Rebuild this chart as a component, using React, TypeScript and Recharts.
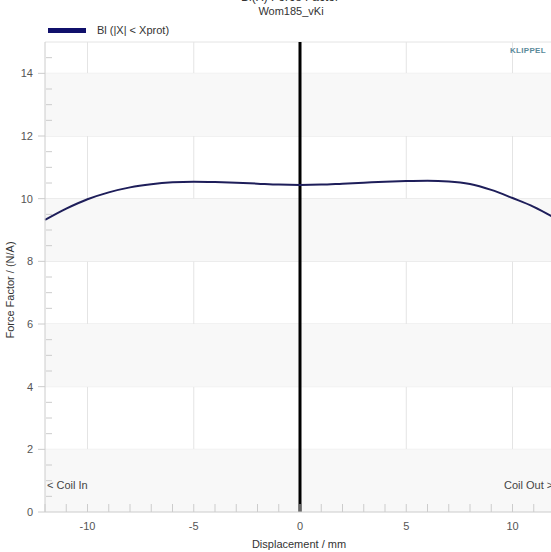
import React from "react";
import {
  LineChart,
  Line,
  XAxis,
  YAxis,
  CartesianGrid,
  ReferenceLine,
  ReferenceArea,
} from "recharts";

// displacement in mm, force factor in N/A
const displacement = [-12, -11, -10, -9, -8, -7, -6, -5, -4, -3, -2, -1, 0, 1, 2, 3, 4, 5, 6, 7, 8, 9, 10, 11, 12];
const forceFactor = [
  9.32, 9.68, 9.98, 10.2, 10.36, 10.46, 10.52, 10.54, 10.53, 10.51, 10.48, 10.45, 10.44,
  10.45, 10.48, 10.51, 10.54, 10.56, 10.57, 10.55, 10.47, 10.28, 10.02, 9.74, 9.38,
];

const xTicks = displacement;
const xLabelTicks = [-10, -5, 0, 5, 10];
const yTicks = [0, 0.5, 1, 1.5, 2, 2.5, 3, 3.5, 4, 4.5, 5, 5.5, 6, 6.5, 7, 7.5, 8, 8.5, 9, 9.5, 10, 10.5, 11, 11.5, 12, 12.5, 13, 13.5, 14, 14.5, 15];
const yLabelTicks = [0, 2, 4, 6, 8, 10, 12, 14];
const gridY = [2, 4, 6, 8, 10, 12, 14, 15];
const shadedBands: [number, number][] = [
  [0, 2],
  [4, 6],
  [8, 10],
  [12, 14],
];

const FONT = "'Liberation Sans', Arial, sans-serif";
const LINE = "#1e1e5a";

const data = displacement.map((x, i) => ({ x, bl: forceFactor[i] }));

function XTick(props: any) {
  const { x, y, payload } = props;
  const axisY = y - 10;
  const showLabel = xLabelTicks.includes(payload.value);
  return (
    <g>
      <line x1={x} x2={x} y1={axisY} y2={axisY - 8} stroke="#ccc" />
      {showLabel && (
        <text x={x} y={y} dy="0.75em" textAnchor="middle" fill="#555" fontSize={11} fontFamily={FONT}>
          {payload.value}
        </text>
      )}
    </g>
  );
}

function YTick(props: any) {
  const { x, y, payload } = props;
  const axisX = x + 10;
  const major = yLabelTicks.includes(payload.value);
  if (payload.value === 15) return <g />;
  return (
    <g>
      {major ? (
        <>
          <line x1={axisX - 7} x2={axisX} y1={y} y2={y} stroke="#ccc" />
          <text x={x - 2} y={y} dy="0.35em" textAnchor="end" fill="#555" fontSize={11} fontFamily={FONT}>
            {payload.value}
          </text>
        </>
      ) : (
        <line x1={axisX + 1} x2={axisX + 7} y1={y} y2={y} stroke="#ccc" />
      )}
    </g>
  );
}

export default function App() {
  return (
    <div
      style={{
        position: "fixed",
        left: 0,
        top: 0,
        width: 551,
        height: 552,
        overflow: "hidden",
        background: "#fff",
        fontFamily: FONT,
      }}
    >
      <div style={{ position: "absolute", top: -10, left: 290, transform: "translateX(-50%)", fontSize: 12, color: "#333", whiteSpace: "nowrap" }}>
        Bl(X) Force Factor
      </div>
      <div style={{ position: "absolute", top: 5, left: 291, transform: "translateX(-50%)", fontSize: 11, color: "#333", whiteSpace: "nowrap" }}>
        Wom185_vKi
      </div>
      <div style={{ position: "absolute", top: 24, left: 48, display: "flex", alignItems: "center", fontSize: 11, color: "#333" }}>
        <div style={{ width: 38, height: 5, background: "#10106b", marginRight: 11 }} />
        Bl (|X| &lt; Xprot)
      </div>
      <LineChart width={560} height={552} data={data} margin={{ top: 42, right: 5, left: 0, bottom: 10 }}>
        {shadedBands.map(([a, b]) => (
          <ReferenceArea key={a} y1={a} y2={b} fill="#f8f8f8" fillOpacity={1} stroke="none" ifOverflow="visible" />
        ))}
        <CartesianGrid
          stroke="#e4e4e4"
          horizontalValues={gridY}
          verticalValues={xLabelTicks}
        />
        <XAxis
          type="number"
          dataKey="x"
          domain={[-12, 12]}
          ticks={xTicks}
          interval={0}
          tickSize={0}
          tickMargin={10}
          height={30}
          tick={<XTick />}
          tickLine={false}
          axisLine={{ stroke: "#ccc" }}
        />
        <YAxis
          type="number"
          domain={[0, 15]}
          ticks={yTicks}
          interval={0}
          tickSize={0}
          tickMargin={10}
          width={45}
          tick={<YTick />}
          tickLine={false}
          axisLine={{ stroke: "#ccc" }}
        />
        <ReferenceLine x={0} stroke="#000" strokeWidth={3} />
        <Line
          type="monotone"
          dataKey="bl"
          stroke={LINE}
          strokeWidth={2}
          dot={false}
          isAnimationActive={false}
        />
      </LineChart>
      <div style={{ position: "absolute", left: 47, top: 479, fontSize: 11, color: "#444" }}>&lt; Coil In</div>
      <div style={{ position: "absolute", left: 504, top: 479, fontSize: 11, color: "#444", whiteSpace: "nowrap" }}>
        Coil Out &gt;
      </div>
      <div style={{ position: "absolute", left: 510, top: 46, fontSize: 8, fontWeight: "bold", color: "#5a8a9a", letterSpacing: 0.3 }}>
        KLIPPEL
      </div>
      <div
        style={{
          position: "absolute",
          left: 10,
          top: 290,
          transform: "translate(-50%, -50%) rotate(-90deg)",
          fontSize: 11,
          color: "#333",
          whiteSpace: "nowrap",
        }}
      >
        Force Factor / (N/A)
      </div>
      <div style={{ position: "absolute", top: 538, left: 299, transform: "translateX(-50%)", fontSize: 11, color: "#333", whiteSpace: "nowrap" }}>
        Displacement / mm
      </div>
    </div>
  );
}
